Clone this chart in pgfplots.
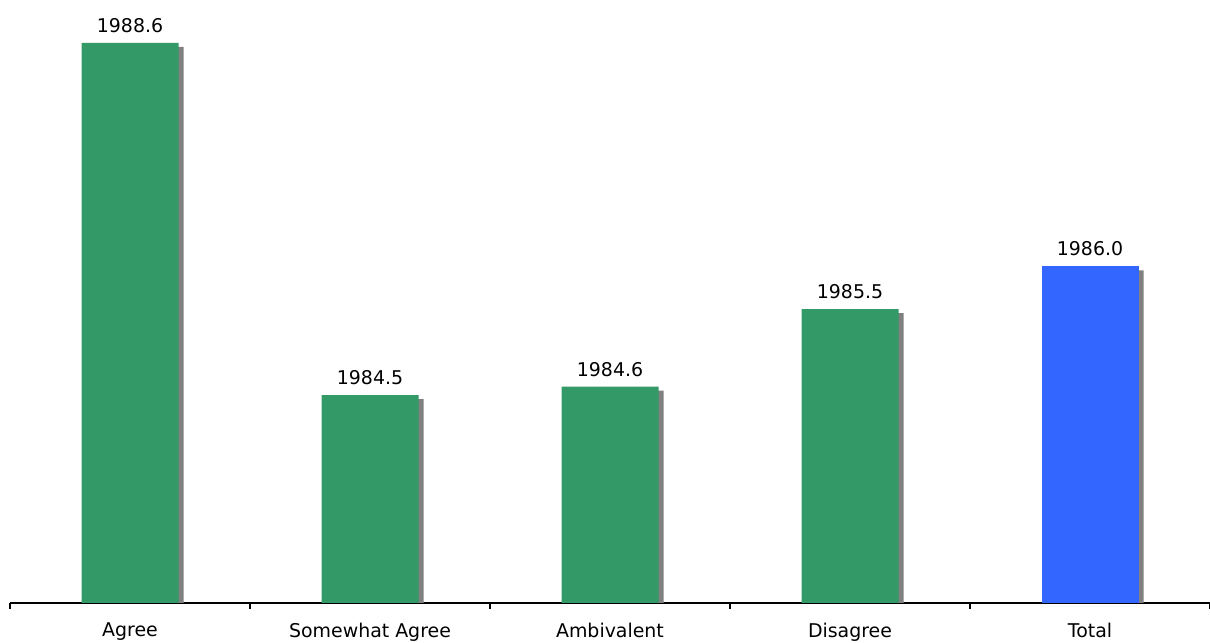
\documentclass[border=0pt]{standalone}
\usepackage{pgfplots}
\pgfplotsset{compat=1.18}
\usepackage{fontspec}
\setmainfont{DejaVu Sans}
\definecolor{bargreen}{HTML}{339966}
\definecolor{barblue}{HTML}{3366FF}
\definecolor{shadow}{HTML}{808080}

\begin{document}
\begin{tikzpicture}
\begin{axis}[
  scale only axis,
  width=600bp, height=301.5bp,
  xmin=-0.5, xmax=4.5,
  ymin=1982.08, ymax=1989.1,
  axis x line=bottom,
  axis y line=none,
  x axis line style={-, black, line width=0.6bp},
  xtick={0,1,2,3,4},
  xticklabels={Agree, Somewhat Agree, Ambivalent, Disagree, Total},
  major tick length=0pt,
  minor xtick={-0.5,0.5,1.5,2.5,3.5,4.5},
  minor tick length=3bp,
  tick align=outside,
  minor tick style={black, line width=0.6bp},
  xticklabel style={font=\fontsize{9.5}{11}\selectfont, yshift=-6.5bp},
  ybar, bar width=48.5bp,
  nodes near coords style={font=\fontsize{9.5}{11}\selectfont, black, yshift=1.5bp},
]
% shadows
\addplot[fill=shadow, draw=none, bar shift=2.5bp, yshift=-2bp]
  coordinates {(0,1988.6) (1,1984.5) (2,1984.6) (3,1985.5) (4,1986.0)};
% green bars
\addplot[fill=bargreen, draw=none, bar shift=0pt,
  nodes near coords, point meta=explicit symbolic]
  coordinates {(0,1988.6)[1988.6] (1,1984.5)[1984.5] (2,1984.6)[1984.6] (3,1985.5)[1985.5]};
% total bar
\addplot[fill=barblue, draw=none, bar shift=0pt,
  nodes near coords, point meta=explicit symbolic]
  coordinates {(4,1986.0)[1986.0]};
\end{axis}
\pgfresetboundingbox
\path (-5bp,-20bp) rectangle (600bp,301.5bp);
\end{tikzpicture}
\end{document}
